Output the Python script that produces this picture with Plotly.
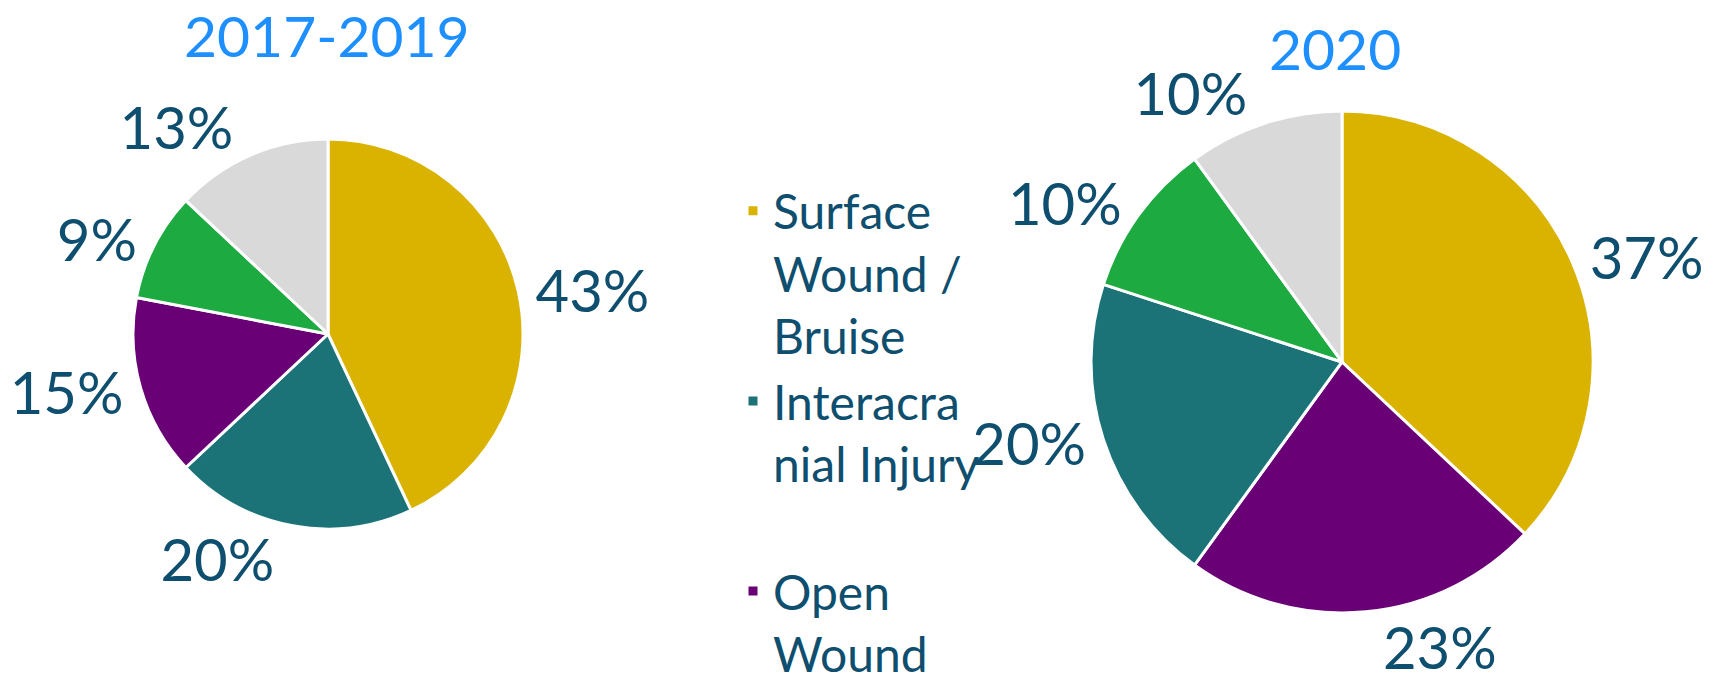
import plotly.graph_objects as go

# categories in legend order; the last two are cut off in the reference
categories = ["Surface<br>Wound /<br>Bruise", "Interacra<br>nial Injury<br> ",
              "Open<br>Wound", "Fracture", "Other"]
colors = ["#D9B300", "#1B7378", "#690075", "#1CAA41", "#D9D9D9"]

# 2017-2019 slices, clockwise from 12 o'clock
labels_1719 = [categories[0], categories[1], categories[2], categories[3], categories[4]]
values_1719 = [43, 20, 15, 9, 13]

# 2020 slices, clockwise from 12 o'clock
labels_2020 = [categories[0], categories[2], categories[1], categories[3], categories[4]]
values_2020 = [37, 23, 20, 10, 10]

color_map = dict(zip(categories, colors))
TEXT = "#0E4E6E"
TITLE = "#1E8FFF"
FONT = "Lato"

fig = go.Figure()
for labels, values, dom in [
    (labels_1719, values_1719, dict(x=[0.0773, 0.3041], y=[0.2355, 0.7991])),
    (labels_2020, values_2020, dict(x=[0.6343, 0.9262], y=[0.1142, 0.8396])),
]:
    fig.add_trace(go.Pie(
        labels=labels,
        values=values,
        sort=False,
        direction="clockwise",
        rotation=0,
        domain=dom,
        marker=dict(colors=[color_map[l] for l in labels],
                    line=dict(color="#FFFFFF", width=3)),
        textposition="outside",
        texttemplate="%{percent:.0%}",
        outsidetextfont=dict(family=FONT, size=58, color=TEXT),
        hoverinfo="label+percent",
    ))

fig.add_annotation(text="2017-2019", x=0.1901, y=0.9494, xref="paper", yref="paper",
                   xanchor="center", yanchor="middle", showarrow=False,
                   font=dict(family=FONT, size=57, color=TITLE))
fig.add_annotation(text="2020", x=0.7762, y=0.9306, xref="paper", yref="paper",
                   xanchor="center", yanchor="middle", showarrow=False,
                   font=dict(family=FONT, size=57, color=TITLE))

fig.update_layout(
    width=1720, height=692,
    margin=dict(l=0, r=0, t=0, b=0, autoexpand=False),
    paper_bgcolor="#FFFFFF",
    plot_bgcolor="#FFFFFF",
    showlegend=True,
    legend=dict(
        x=733 / 1720, y=0.75, xanchor="left", yanchor="top",
        valign="top",
        font=dict(family=FONT, size=48, color=TEXT),
        bgcolor="rgba(0,0,0,0)",
    ),
)

fig.write_html("out.html", config={"displayModeBar": False},
               post_script="document.body.style.margin='0';")
